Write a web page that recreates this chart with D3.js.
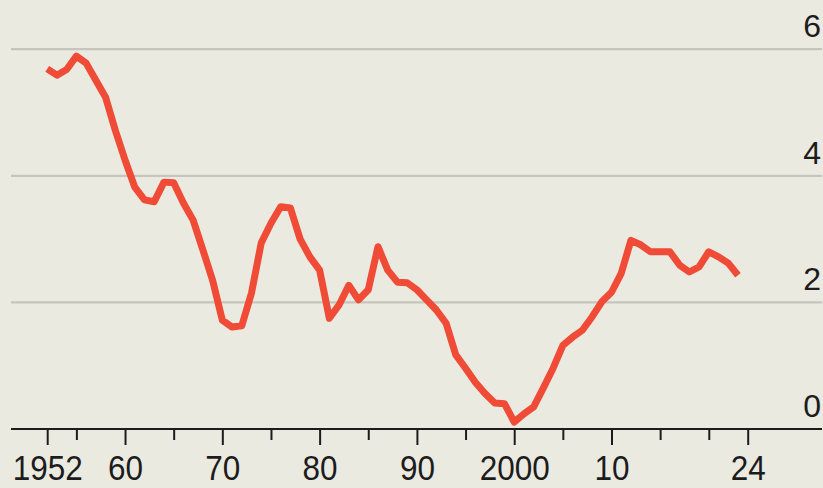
<!DOCTYPE html>
<html>
<head>
<meta charset="utf-8">
<script src="https://cdn.jsdelivr.net/npm/d3@7"></script>
<style>
  html, body { margin: 0; padding: 0; background: #ebeae1; }
  svg { display: block; }
  text { font-family: "Liberation Sans", Arial, sans-serif; fill: #1c1c1c; }
</style>
</head>
<body>
<svg></svg>
<script>
// annual values, 1952-2023
const years = d3.range(1952, 2024);
const values = [
  5.69, 5.59, 5.68, 5.89, 5.78, 5.51, 5.24, 4.72, 4.25, 3.82,
  3.62, 3.59, 3.90, 3.89, 3.57, 3.30, 2.83, 2.35, 1.72, 1.61,
  1.63, 2.15, 2.94, 3.25, 3.51, 3.49, 3.00, 2.72, 2.51, 1.75,
  1.96, 2.27, 2.04, 2.20, 2.88, 2.51, 2.32, 2.31, 2.20, 2.04,
  1.88, 1.67, 1.17, 0.96, 0.74, 0.56, 0.41, 0.40, 0.11, 0.24,
  0.35, 0.65, 0.96, 1.32, 1.45, 1.56, 1.77, 2.01, 2.16, 2.46,
  2.98, 2.91, 2.80, 2.80, 2.80, 2.59, 2.48, 2.56, 2.80, 2.72,
  2.62, 2.43
];
const majorTicks = [1952, 1960, 1970, 1980, 1990, 2000, 2010, 2024];
const majorLabels = ["1952", "60", "70", "80", "90", "2000", "10", "24"];
const minorTicks = [1955, 1965, 1975, 1985, 1995, 2005, 2015, 2020];
const yTicks = [0, 2, 4, 6];

const data = years.map(function(y, i) { return { year: y, value: values[i] }; });

const svgWidth = 823, svgHeight = 488;
const svg = d3.select("svg")
    .attr("width", svgWidth)
    .attr("height", svgHeight);

const xScale = d3.scaleLinear().domain([1952, 2024]).range([47.2, 747.7]);
const yScale = d3.scaleLinear().domain([0, 6]).range([429, 49.2]);

const left = 11, right = 822;

// gridlines
svg.append("g")
  .selectAll("line")
  .data(yTicks.filter(function(d) { return d > 0; }))
  .enter()
  .append("line")
    .attr("x1", left)
    .attr("x2", right)
    .attr("y1", function(d) { return yScale(d); })
    .attr("y2", function(d) { return yScale(d); })
    .attr("stroke", "#c6c5bd")
    .attr("stroke-width", 2.2);

// y labels, right aligned above gridlines
svg.append("g")
  .selectAll("text")
  .data(yTicks)
  .enter()
  .append("text")
    .attr("x", 821)
    .attr("y", function(d) { return yScale(d) - 12; })
    .attr("text-anchor", "end")
    .style("font-size", "32px")
    .text(function(d) { return d; });

// x axis ticks
const majorAxis = d3.axisBottom(xScale)
    .tickValues(majorTicks)
    .tickSize(16)
    .tickPadding(10)
    .tickFormat(function(d, i) { return majorLabels[i]; });

const gx = svg.append("g")
    .attr("transform", "translate(0,429)")
    .call(majorAxis);
gx.select(".domain").remove();
gx.selectAll(".tick line").attr("stroke", "#1c1c1c").attr("stroke-width", 2);
gx.selectAll(".tick text")
    .attr("fill", "#1c1c1c")
    .attr("y", 51)
    .attr("dy", 0)
    .attr("transform", "scale(0.9,1)")
    .style("font-size", "35px")
    .style("font-family", "'Liberation Sans', Arial, sans-serif");

const gxMinor = svg.append("g")
    .attr("transform", "translate(0,429)")
    .call(d3.axisBottom(xScale).tickValues(minorTicks).tickSize(11).tickFormat(""));
gxMinor.select(".domain").remove();
gxMinor.selectAll(".tick line").attr("stroke", "#1c1c1c").attr("stroke-width", 2);

// baseline
svg.append("line")
    .attr("x1", left)
    .attr("x2", right)
    .attr("y1", yScale(0))
    .attr("y2", yScale(0))
    .attr("stroke", "#1c1c1c")
    .attr("stroke-width", 2.2);

// the line
const line = d3.line()
    .x(function(d) { return xScale(d.year); })
    .y(function(d) { return yScale(d.value); });

svg.append("path")
    .datum(data)
    .attr("fill", "none")
    .attr("stroke", "#ef4b36")
    .attr("stroke-width", 7)
    .attr("stroke-linejoin", "round")
    .attr("d", line);
</script>
</body>
</html>
